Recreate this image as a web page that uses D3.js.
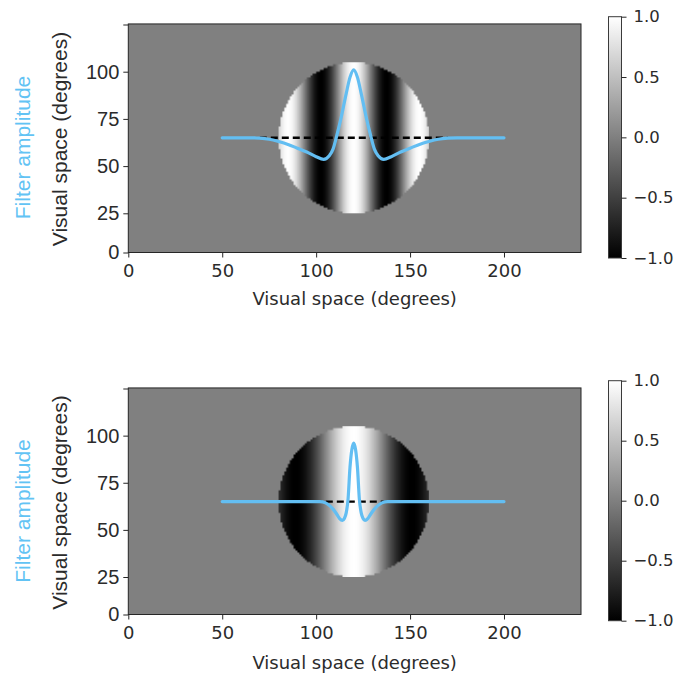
<!DOCTYPE html>
<html>
<head>
<meta charset="utf-8">
<script src="https://cdn.jsdelivr.net/npm/d3@7/dist/d3.min.js"></script>
<style>
  html, body { margin: 0; padding: 0; background: #fff; }
  svg { display: block; }
</style>
</head>
<body>
<svg id="fig" width="679" height="675"></svg>
<script>
// ---- data -------------------------------------------------------------
// Filter profile of the wide receptive field (top panel)
const topFilterX = [50, 60, 65, 70, 75, 80, 85, 90, 95, 100, 104, 107, 109, 111, 113, 116, 118, 120,
                    122, 124, 127, 129, 131, 133, 136, 140, 145, 150, 155, 160, 165, 170, 175, 180, 190, 200];
const topFilterY = [65, 65, 65, 64.8, 64.2, 63, 61.5, 59.5, 57.5, 55, 53.6, 55.5, 59, 66.2, 74.3, 88.4, 97, 101,
                    97, 88.4, 74.3, 66.2, 59, 55.5, 53.6, 55, 57.5, 59.5, 61.5, 63, 64.2, 64.8, 65, 65, 65, 65];

// Filter profile of the narrow receptive field (bottom panel)
const bottomFilterX = [50, 60, 80, 100, 102, 105, 107, 109, 111, 112.5, 114, 115, 116, 117, 118, 119, 120,
                       121, 122, 123, 124, 125, 126, 127.5, 129, 131, 133, 135, 138, 140, 160, 180, 200];
const bottomFilterY = [65, 65, 65, 65, 65, 64.3, 63, 61, 58.3, 56, 55, 56, 59, 66.5, 83, 92.5, 96,
                       92.5, 83, 66.5, 59, 56, 55, 56, 58.3, 61, 63, 64.3, 65, 65, 65, 65, 65];

// Circular grating stimulus
const gratingPeriods = [35, 62];      // degrees per cycle, top / bottom
const stimulusCenter = [120, 65];     // degrees
const stimulusRadius = 40;            // degrees
const baselineY = 65;
const dashedX = [70, 170];

// Axis ticks and labels
const xTicks = [0, 50, 100, 150, 200];
const yTicks = [0, 25, 50, 75, 100, 125];
const yTickLabels = ["0", "25", "50", "75", "100", ""];
const colorTicks = [-1, -0.5, 0, 0.5, 1];
const colorTickLabels = ["\u22121.0", "\u22120.5", "0.0", "0.5", "1.0"];
const xTitle = "Visual space (degrees)";
const yTitle = "Visual space (degrees)";
const ampTitle = "Filter amplitude";

// ---- layout -----------------------------------------------------------
const panels = [
  { yDomain: [0, 25, 125], yRange: [252.5, 213.3, 24.5], cb: [258, 16.7],
    filterX: topFilterX, filterY: topFilterY, period: gratingPeriods[0], dy: 0 },
  { yDomain: [0, 25, 125], yRange: [614.5, 577, 388.5], cb: [620.7, 380.7],
    filterX: bottomFilterX, filterY: bottomFilterY, period: gratingPeriods[1], dy: 363.5 }
];
const xRange = [128.3, 581];
const xDomain = [0, 241];
const lineBlue = "#63bef2";
const labelBlue = "#62c3f4";
const axisColor = "#262626";
const textColor = "#2b2b2b";
const grayOf = v => { const g = Math.round((v + 1) / 2 * 255); return [g, g, g]; };

const svg = d3.select("#fig");

// Colorbar gradient (matplotlib "gray": black -> white)
const defs = svg.append("defs");
const grad = defs.append("linearGradient").attr("id", "cbgrad")
  .attr("x1", 0).attr("y1", 1).attr("x2", 0).attr("y2", 0);
grad.append("stop").attr("offset", "0%").attr("stop-color", "#000");
grad.append("stop").attr("offset", "100%").attr("stop-color", "#fff");

// Rasterise a grating into a small canvas; one pixel per degree
function gratingImage(period) {
  const x0 = stimulusCenter[0] - stimulusRadius, y1 = stimulusCenter[1] + stimulusRadius;
  const n = stimulusRadius * 2;
  const canvas = document.createElement("canvas");
  canvas.width = n; canvas.height = n;
  const ctx = canvas.getContext("2d");
  const img = ctx.createImageData(n, n);
  for (let j = 0; j < n; j++) {
    for (let i = 0; i < n; i++) {
      const gx = x0 + i + 0.5, gy = y1 - j - 0.5;
      const dx = gx - stimulusCenter[0], dyy = gy - stimulusCenter[1];
      const k = (j * n + i) * 4;
      if (dx * dx + dyy * dyy <= stimulusRadius * stimulusRadius) {
        const [r, g, b] = grayOf(Math.cos(2 * Math.PI * dx / period));
        img.data[k] = r; img.data[k + 1] = g; img.data[k + 2] = b; img.data[k + 3] = 255;
      } else {
        img.data[k + 3] = 0;
      }
    }
  }
  ctx.putImageData(img, 0, 0);
  return canvas.toDataURL();
}

panels.forEach((p, idx) => {
  const x = d3.scaleLinear().domain(xDomain).range(xRange);
  const y = d3.scaleLinear().domain(p.yDomain).range(p.yRange);
  const g = svg.append("g");

  const top = y(125.3), bottom = y(0);
  const [bg0, bg1, bg2] = grayOf(0);

  // gray background (value 0)
  g.append("rect")
    .attr("x", x(0)).attr("y", top)
    .attr("width", x(xDomain[1]) - x(0)).attr("height", bottom - top)
    .attr("fill", `rgb(${bg0},${bg1},${bg2})`);

  // grating disc
  const gx0 = stimulusCenter[0] - stimulusRadius, gx1 = stimulusCenter[0] + stimulusRadius;
  const gy0 = stimulusCenter[1] - stimulusRadius, gy1 = stimulusCenter[1] + stimulusRadius;
  g.append("image")
    .attr("href", gratingImage(p.period))
    .attr("x", x(gx0)).attr("y", y(gy1))
    .attr("width", x(gx1) - x(gx0)).attr("height", y(gy0) - y(gy1))
    .attr("preserveAspectRatio", "none")
    .style("image-rendering", "auto");

  // dashed baseline
  g.append("line")
    .attr("x1", x(dashedX[0])).attr("x2", x(dashedX[1]))
    .attr("y1", y(baselineY)).attr("y2", y(baselineY))
    .attr("stroke", "#000").attr("stroke-width", 2.4)
    .attr("stroke-dasharray", "7,4");

  // filter profile
  const pts = p.filterX.map((v, i) => [v, p.filterY[i]]);
  g.append("path")
    .datum(pts)
    .attr("d", d3.line().x(d => x(d[0])).y(d => y(d[1])).curve(d3.curveMonotoneX))
    .attr("fill", "none").attr("stroke", lineBlue)
    .attr("stroke-width", 3.2).attr("stroke-linejoin", "round").attr("stroke-linecap", "round");

  // frame
  g.append("rect")
    .attr("x", x(0)).attr("y", top)
    .attr("width", x(xDomain[1]) - x(0)).attr("height", bottom - top)
    .attr("fill", "none").attr("stroke", axisColor).attr("stroke-width", 1);

  // x axis
  const xa = g.append("g").attr("transform", `translate(0,${bottom})`)
    .call(d3.axisBottom(x).tickValues(xTicks).tickSize(5).tickSizeOuter(0).tickPadding(6.5)
      .tickFormat(d3.format("d")));
  xa.select(".domain").remove();
  xa.selectAll("line").attr("stroke", axisColor);
  xa.selectAll("text").attr("fill", textColor)
    .style("font-family", "'DejaVu Sans', sans-serif").style("font-size", "18px");

  // y axis
  const ya = g.append("g").attr("transform", `translate(${x(0)},0)`)
    .call(d3.axisLeft(y).tickValues(yTicks).tickSize(5).tickSizeOuter(0).tickPadding(4)
      .tickFormat((d, i) => yTickLabels[i]));
  ya.select(".domain").remove();
  ya.selectAll("line").attr("stroke", axisColor);
  ya.selectAll("text").attr("fill", textColor)
    .style("font-family", "'Liberation Sans', Arial, sans-serif").style("font-size", "20px");

  // titles
  g.append("text")
    .attr("x", (xRange[0] + xRange[1]) / 2).attr("y", 305 + p.dy)
    .attr("text-anchor", "middle").attr("fill", textColor)
    .style("font-family", "'DejaVu Sans', sans-serif").style("font-size", "18px")
    .text(xTitle);
  g.append("text")
    .attr("transform", `translate(66.5,${139 + p.dy}) rotate(-90)`)
    .attr("text-anchor", "middle").attr("fill", textColor)
    .style("font-family", "'Liberation Sans', Arial, sans-serif").style("font-size", "21px")
    .text(yTitle);
  g.append("text")
    .attr("transform", `translate(29.5,${147.5 + p.dy}) rotate(-90)`)
    .attr("text-anchor", "middle").attr("fill", labelBlue)
    .style("font-family", "'Liberation Sans', Arial, sans-serif").style("font-size", "21px")
    .text(ampTitle);

  // colorbar
  const c = d3.scaleLinear().domain([-1, 1]).range(p.cb);
  const cbX = 608.5, cbW = 13;
  g.append("rect")
    .attr("x", cbX).attr("y", c(1)).attr("width", cbW).attr("height", c(-1) - c(1))
    .attr("fill", "url(#cbgrad)").attr("stroke", "#3a3a3a").attr("stroke-width", 1);
  const ca = g.append("g").attr("transform", `translate(${cbX + cbW},0)`)
    .call(d3.axisRight(c).tickValues(colorTicks).tickSize(5).tickSizeOuter(0).tickPadding(7)
      .tickFormat((d, i) => colorTickLabels[i]));
  ca.select(".domain").remove();
  ca.selectAll("line").attr("stroke", axisColor);
  ca.selectAll("text").attr("fill", textColor)
    .style("font-family", "'DejaVu Sans', sans-serif").style("font-size", "16.5px");
});
</script>
</body>
</html>
